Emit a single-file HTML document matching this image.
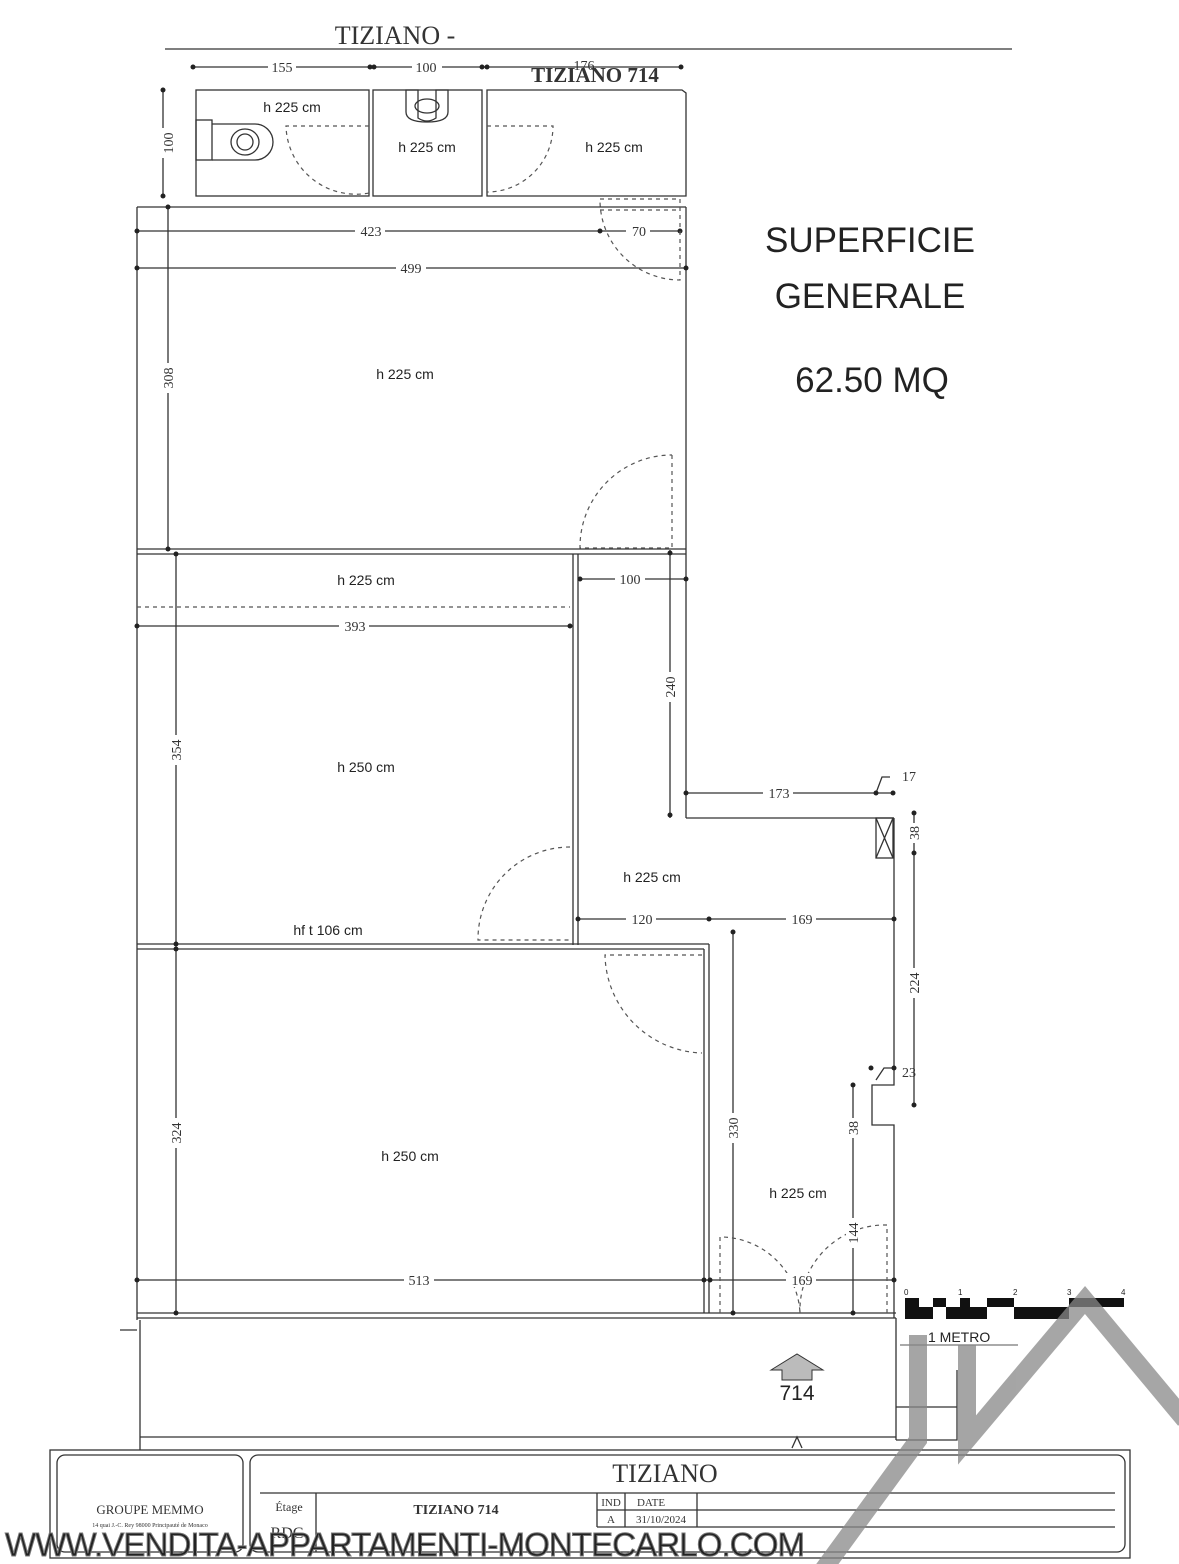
<!DOCTYPE html>
<html><head><meta charset="utf-8"><style>
html,body{margin:0;padding:0;background:#fff}
svg{display:block}
.s{font-family:"Liberation Sans",sans-serif;fill:#222}
.r{font-family:"Liberation Serif",serif;fill:#333}
</style></head><body>
<svg width="1179" height="1564" viewBox="0 0 1179 1564" xmlns="http://www.w3.org/2000/svg">
<rect width="1179" height="1564" fill="#fff"/>
<g stroke="#333" fill="none" stroke-width="1.3">
<!-- title line -->
<line x1="165" y1="49" x2="1012" y2="49"/>
<!-- top dim -->
<line x1="193" y1="67" x2="681" y2="67"/>
<line x1="163" y1="90" x2="163" y2="196"/>
<!-- top rooms -->
<rect x="196" y="90" width="173" height="106"/>
<rect x="373" y="90" width="109" height="106"/>
<path d="M487 90 H682 L686 93 V196 H487 Z"/>
<!-- toilet -->
<rect x="196" y="120" width="16" height="40"/>
<path d="M212 124 H255 A18 18 0 0 1 255 160 H212"/>
<ellipse cx="245" cy="142" rx="14" ry="13"/>
<ellipse cx="245" cy="142" rx="8" ry="8"/>
<!-- sink -->
<path d="M406 90 H418 V118 Q427 124 436 118 V90 H448 V112 Q448 122 427 122 Q406 122 406 112Z"/>
<ellipse cx="427" cy="106" rx="12" ry="7"/>
<!-- main walls -->
<line x1="137" y1="207" x2="686" y2="207"/>
<line x1="137" y1="207" x2="137" y2="1320"/>
<line x1="686" y1="207" x2="686" y2="818"/>
<line x1="686" y1="818" x2="894" y2="818"/>
<path d="M894 818 V1085 H872 V1125 H894 V1318"/>
<rect x="876" y="818" width="17" height="40"/><path d="M876 818 L893 858 M893 818 L876 858"/>
<line x1="137" y1="549" x2="686" y2="549"/><line x1="137" y1="554" x2="686" y2="554"/>
<line x1="573" y1="554" x2="573" y2="945"/><line x1="578" y1="554" x2="578" y2="945"/>
<line x1="137" y1="944" x2="709" y2="944"/><line x1="137" y1="949" x2="704" y2="949"/>
<line x1="704" y1="949" x2="704" y2="1313"/><line x1="709" y1="944" x2="709" y2="1313"/>
<line x1="137" y1="1313" x2="896" y2="1313"/><line x1="137" y1="1318" x2="896" y2="1318"/>
<!-- below -->
<line x1="120" y1="1330" x2="137" y2="1330"/>
<line x1="140" y1="1320" x2="140" y2="1450"/>
<line x1="140" y1="1437" x2="896" y2="1437"/>
<line x1="896" y1="1318" x2="896" y2="1440"/>
<path d="M896 1440 H957 V1370 M896 1407 H957"/>
<path d="M792 1448 L797 1437 L802 1448"/>
<!-- dims -->
<line x1="137" y1="231" x2="680" y2="231"/>
<line x1="137" y1="268" x2="686" y2="268"/>
<line x1="168" y1="207" x2="168" y2="550"/>
<line x1="176" y1="554" x2="176" y2="945"/>
<line x1="176" y1="949" x2="176" y2="1313"/>
<line x1="137" y1="626" x2="570" y2="626"/>
<line x1="578" y1="579" x2="686" y2="579"/>
<line x1="670" y1="550" x2="670" y2="818"/>
<line x1="686" y1="793" x2="893" y2="793"/>
<path d="M876 793 L882 777 H890"/>
<line x1="914" y1="813" x2="914" y2="1105"/>
<path d="M876 1080 L884 1068 H892"/>
<line x1="578" y1="919" x2="894" y2="919"/>
<line x1="733" y1="932" x2="733" y2="1313"/>
<line x1="853" y1="1085" x2="853" y2="1313"/>
<line x1="137" y1="1280" x2="894" y2="1280"/>
<!-- title block -->
<rect x="50" y="1450" width="1080" height="108"/>
<rect x="57" y="1455" width="186" height="97" rx="8"/>
<rect x="250" y="1455" width="875" height="97" rx="8"/>
<line x1="260" y1="1493" x2="1115" y2="1493"/>
<line x1="316" y1="1493" x2="316" y2="1552"/>
<line x1="597" y1="1493" x2="597" y2="1527"/>
<line x1="625" y1="1493" x2="625" y2="1527"/>
<line x1="697" y1="1493" x2="697" y2="1527"/>
<line x1="597" y1="1510" x2="1115" y2="1510"/>
<line x1="597" y1="1527" x2="1115" y2="1527"/>
</g>
<!-- dimension dots -->
<g fill="#222">
<circle cx="193" cy="67" r="2.5"/><circle cx="370" cy="67" r="2.5"/><circle cx="374" cy="67" r="2.5"/><circle cx="482" cy="67" r="2.5"/><circle cx="487" cy="67" r="2.5"/><circle cx="681" cy="67" r="2.5"/>
<circle cx="163" cy="90" r="2.5"/><circle cx="163" cy="196" r="2.5"/>
<circle cx="168" cy="207" r="2.5"/><circle cx="137" cy="231" r="2.5"/><circle cx="600" cy="231" r="2.5"/><circle cx="680" cy="231" r="2.5"/>
<circle cx="137" cy="268" r="2.5"/><circle cx="686" cy="268" r="2.5"/><circle cx="168" cy="549" r="2.5"/>
<circle cx="176" cy="554" r="2.5"/><circle cx="137" cy="626" r="2.5"/><circle cx="570" cy="626" r="2.5"/>
<circle cx="580" cy="579" r="2.5"/><circle cx="686" cy="579" r="2.5"/><circle cx="670" cy="553" r="2.5"/><circle cx="670" cy="815" r="2.5"/>
<circle cx="686" cy="793" r="2.5"/><circle cx="876" cy="793" r="2.5"/><circle cx="893" cy="793" r="2.5"/>
<circle cx="914" cy="813" r="2.5"/><circle cx="914" cy="853" r="2.5"/><circle cx="914" cy="1105" r="2.5"/>
<circle cx="578" cy="919" r="2.5"/><circle cx="709" cy="919" r="2.5"/><circle cx="894" cy="919" r="2.5"/>
<circle cx="176" cy="944" r="2.5"/><circle cx="176" cy="949" r="2.5"/><circle cx="733" cy="932" r="2.5"/><circle cx="733" cy="1313" r="2.5"/>
<circle cx="853" cy="1085" r="2.5"/><circle cx="853" cy="1125" r="2.5"/><circle cx="853" cy="1313" r="2.5"/>
<circle cx="871" cy="1068" r="2.5"/><circle cx="894" cy="1068" r="2.5"/>
<circle cx="137" cy="1280" r="2.5"/><circle cx="704" cy="1280" r="2.5"/><circle cx="710" cy="1280" r="2.5"/><circle cx="894" cy="1280" r="2.5"/><circle cx="176" cy="1313" r="2.5"/>
</g>
<!-- doors dashed -->
<g stroke="#555" fill="none" stroke-width="1.2" stroke-dasharray="4,4">
<path d="M369 126 H286 A70 70 0 0 0 369 193"/>
<path d="M487 126 H553 A66 66 0 0 1 487 192"/>
<path d="M600 199 H680 V280 A80 80 0 0 1 600 199"/>
<path d="M600 210 H680"/>
<path d="M672 455 V548 H580 A92 92 0 0 1 672 455"/>
<path d="M137 607 H570"/>
<path d="M570 847 A92 92 0 0 0 478 940 H570"/>
<path d="M702 955 H605 A100 100 0 0 0 702 1053"/>
<path d="M720 1313 V1237 H722 A80 80 0 0 1 800 1313"/>
<path d="M887 1313 V1225 H885 A85 85 0 0 0 800 1313"/>
</g>
<!-- scale bar -->
<g fill="#111">
<rect x="905" y="1298" width="14" height="9"/><rect x="919" y="1307" width="14" height="12"/><rect x="933" y="1298" width="13" height="9"/><rect x="946" y="1307" width="14" height="12"/>
<rect x="960" y="1298" width="10" height="9"/><rect x="960" y="1307" width="27" height="12"/><rect x="987" y="1298" width="27" height="9"/><rect x="1014" y="1307" width="55" height="12"/><rect x="1069" y="1298" width="55" height="9"/><rect x="905" y="1307" width="14" height="12"/>
</g>
<g class="s" font-size="8" fill="#333"><text x="904" y="1295">0</text><text x="958" y="1295">1</text><text x="1013" y="1295">2</text><text x="1067" y="1295">3</text><text x="1121" y="1295">4</text></g>
<line x1="900" y1="1345" x2="1018" y2="1345" stroke="#555"/>
<text x="928" y="1342" class="s" font-size="14" fill="#555">1 METRO</text>
<!-- arrow 714 -->
<path d="M771 1370 L797 1354 L823 1370 H812 V1380 H782 V1370 Z" fill="#bbb" stroke="#333"/>
<text x="797" y="1400" class="s" font-size="21" text-anchor="middle">714</text>
<!-- watermark roof -->
<g stroke="#888" stroke-width="18" fill="none" opacity="0.75">
<path d="M823 1570 L918 1440 V1335"/>
<path d="M967 1345 V1440 L1085 1300 L1185 1420"/>
</g>
<!-- texts -->
<text x="395" y="44" class="r" font-size="26" text-anchor="middle">TIZIANO -</text>
<text x="595" y="82" class="r" font-size="21" font-weight="bold" text-anchor="middle">TIZIANO 714</text>
<g class="r" font-size="14" text-anchor="middle">
<rect x="268" y="60" width="28" height="14" fill="#fff"/><text x="282" y="72">155</text>
<rect x="412" y="60" width="30" height="14" fill="#fff"/><text x="426" y="72">100</text>
<text x="584" y="70">176</text>
<rect x="355" y="224" width="30" height="14" fill="#fff"/><text x="371" y="236">423</text>
<rect x="626" y="224" width="24" height="14" fill="#fff"/><text x="639" y="236">70</text>
<rect x="396" y="261" width="30" height="14" fill="#fff"/><text x="411" y="273">499</text>
<rect x="339" y="619" width="30" height="14" fill="#fff"/><text x="355" y="631">393</text>
<rect x="615" y="572" width="30" height="14" fill="#fff"/><text x="630" y="584">100</text>
<rect x="763" y="786" width="30" height="14" fill="#fff"/><text x="779" y="798">173</text>
<rect x="626" y="912" width="30" height="14" fill="#fff"/><text x="642" y="924">120</text>
<rect x="786" y="912" width="30" height="14" fill="#fff"/><text x="802" y="924">169</text>
<rect x="404" y="1273" width="30" height="14" fill="#fff"/><text x="419" y="1285">513</text>
<rect x="786" y="1273" width="30" height="14" fill="#fff"/><text x="802" y="1285">169</text>
<text x="909" y="781">17</text><text x="909" y="1077">23</text>
</g>
<g class="r" font-size="14" text-anchor="middle">
<g transform="translate(168,143) rotate(-90)"><rect x="-15" y="-8" width="30" height="14" fill="#fff"/><text y="5">100</text></g>
<g transform="translate(173,378) rotate(-90)"><rect x="-15" y="-12" width="30" height="14" fill="#fff"/><text y="0">308</text></g>
<g transform="translate(181,750) rotate(-90)"><rect x="-15" y="-12" width="30" height="14" fill="#fff"/><text y="0">354</text></g>
<g transform="translate(181,1133) rotate(-90)"><rect x="-15" y="-12" width="30" height="14" fill="#fff"/><text y="0">324</text></g>
<g transform="translate(675,687) rotate(-90)"><rect x="-15" y="-12" width="30" height="14" fill="#fff"/><text y="0">240</text></g>
<g transform="translate(919,833) rotate(-90)"><rect x="-10" y="-12" width="20" height="14" fill="#fff"/><text y="0">38</text></g>
<g transform="translate(919,983) rotate(-90)"><rect x="-15" y="-12" width="30" height="14" fill="#fff"/><text y="0">224</text></g>
<g transform="translate(738,1128) rotate(-90)"><rect x="-15" y="-12" width="30" height="14" fill="#fff"/><text y="0">330</text></g>
<g transform="translate(858,1128) rotate(-90)"><rect x="-10" y="-12" width="20" height="14" fill="#fff"/><text y="0">38</text></g>
<g transform="translate(858,1233) rotate(-90)"><rect x="-15" y="-12" width="30" height="14" fill="#fff"/><text y="0">144</text></g>
</g>
<g class="s" font-size="14" text-anchor="middle">
<text x="292" y="112">h 225 cm</text><text x="427" y="152">h 225 cm</text><text x="614" y="152">h 225 cm</text>
<text x="405" y="379">h 225 cm</text><text x="366" y="585">h 225 cm</text><text x="366" y="772">h 250 cm</text>
<text x="652" y="882">h 225 cm</text><text x="328" y="935">hf t 106 cm</text><text x="410" y="1161">h 250 cm</text><text x="798" y="1198">h 225 cm</text>
</g>
<g class="s" font-size="35" text-anchor="middle">
<text x="870" y="252">SUPERFICIE</text><text x="870" y="308">GENERALE</text><text x="872" y="392">62.50 MQ</text>
</g>
<text x="665" y="1482" class="r" font-size="26" text-anchor="middle">TIZIANO</text>
<text x="150" y="1514" class="r" font-size="13" fill="#666" text-anchor="middle">GROUPE MEMMO</text>
<text x="150" y="1527" class="r" font-size="6" fill="#666" text-anchor="middle">14 quai J.-C. Rey 98000 Principauté de Monaco</text>
<text x="289" y="1511" class="r" font-size="12" text-anchor="middle">Étage</text>
<text x="287" y="1538" class="r" font-size="16" text-anchor="middle">RDC</text>
<text x="456" y="1514" class="r" font-size="14" font-weight="bold" text-anchor="middle">TIZIANO 714</text>
<text x="611" y="1506" class="r" font-size="11" text-anchor="middle">IND</text>
<text x="651" y="1506" class="r" font-size="11" text-anchor="middle">DATE</text>
<text x="611" y="1523" class="r" font-size="11" text-anchor="middle">A</text>
<text x="661" y="1523" class="r" font-size="11" text-anchor="middle">31/10/2024</text>
<text x="5" y="1556" class="s" font-size="33" fill="#fff" stroke="#777" stroke-width="1" textLength="800">WWW.VENDITA-APPARTAMENTI-MONTECARLO.COM</text>
</svg>
</body></html>
